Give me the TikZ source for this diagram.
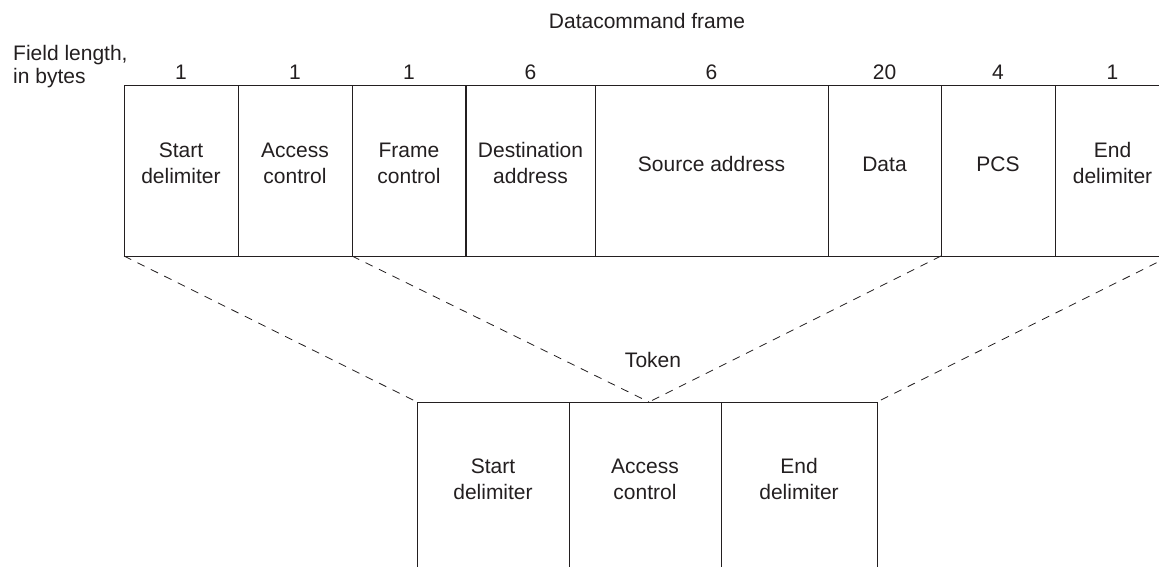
\documentclass[tikz,border=0pt]{standalone}
\usepackage{fontspec}
\setmainfont{Liberation Sans}
\usetikzlibrary{calc}
\definecolor{ink}{HTML}{231F20}
\tikzset{
  fieldbox/.style={draw=ink, line width=1pt, minimum height=170pt, inner sep=0pt, outer sep=0pt},
  lbl/.style={text=ink, font=\fontsize{21}{26}\selectfont, align=center, inner sep=0pt},
  num/.style={text=ink, font=\fontsize{21}{26}\selectfont, anchor=base, inner sep=0pt},
  link/.style={draw=ink, line width=0.8pt, dash pattern=on 8pt off 7pt},
}
\begin{document}
\begin{tikzpicture}[x=1pt,y=-1pt]
\useasboundingbox (0,0) rectangle (1159,567);
\clip (0,0) rectangle (1159,567);
\fill[white] (0,0) rectangle (1159,567);

% titles
\node[num] (title) at (647,29) {Datacommand frame};
\node[lbl, align=left, anchor=north west, font=\fontsize{21}{22.5}\selectfont] (flen) at (13,45.5) {Field length,\\in bytes};

% frame boxes
\node[fieldbox, minimum width=114pt] (f1) at (181,171) {};
\node[fieldbox, minimum width=114pt] (f2) at (295,171) {};
\node[fieldbox, minimum width=114pt] (f3) at (409,171) {};
\node[fieldbox, minimum width=129pt] (f4) at (530.5,171) {};
\node[fieldbox, minimum width=233pt] (f5) at (711.5,171) {};
\node[fieldbox, minimum width=113pt] (f6) at (884.5,171) {};
\node[fieldbox, minimum width=114pt] (f7) at (998,171) {};
\node[fieldbox, minimum width=115pt] (f8) at (1112.5,171) {};
\draw[ink, line width=1.8pt] (f4.north west) -- (f4.south west);

% field lengths
\node[num] (n1) at (181,80) {1};
\node[num] (n2) at (295,80) {1};
\node[num] (n3) at (409,80) {1};
\node[num] (n4) at (530.5,80) {6};
\node[num] (n5) at (711.5,80) {6};
\node[num] (n6) at (884.5,80) {20};
\node[num] (n7) at (998,80) {4};
\node[num] (n8) at (1112.5,80) {1};

% frame labels
\node[lbl] (l1) at (181,163) {Start\\delimiter};
\node[lbl] (l2) at (295,163) {Access\\control};
\node[lbl] (l3) at (409,163) {Frame\\control};
\node[lbl] (l4) at (530.5,163) {Destination\\address};
\node[lbl] (l5) at (711.5,164) {Source address};
\node[lbl] (l6) at (884.5,164) {Data};
\node[lbl] (l7) at (998,164) {PCS};
\node[lbl] (l8) at (1112.5,163) {End\\delimiter};

% token
\node[num] (token) at (653,367) {Token};
\node[fieldbox, minimum width=152pt] (t1) at (493,487) {};
\node[fieldbox, minimum width=152pt] (t2) at (645,487) {};
\node[fieldbox, minimum width=156pt] (t3) at (799,487) {};
\node[lbl] (m1) at (493,479) {Start\\delimiter};
\node[lbl] (m2) at (645,479) {Access\\control};
\node[lbl] (m3) at (799,479) {End\\delimiter};

% dashed connectors
\coordinate (apex) at (649,402);
\draw[link] (f1.south west) -- (t1.north west);
\draw[link] (f3.south west) -- (apex);
\draw[link] (f7.south west) -- (apex);
\draw[link] (f8.south east) -- (t3.north east);
\end{tikzpicture}
\end{document}
